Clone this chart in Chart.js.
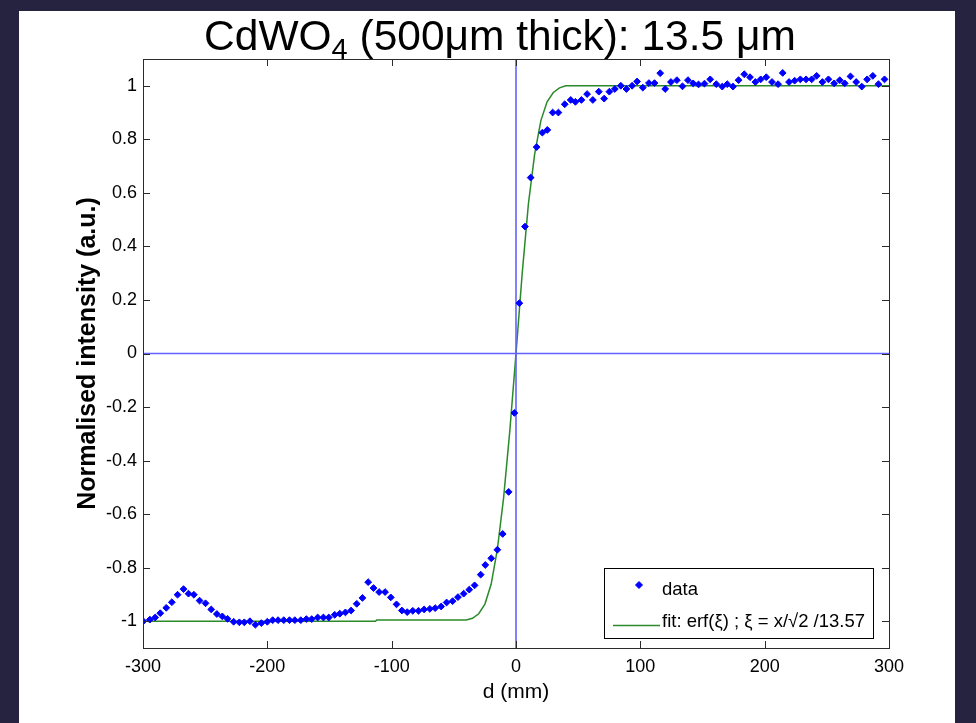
<!DOCTYPE html>
<html><head><meta charset="utf-8">
<script src="https://cdn.jsdelivr.net/npm/chart.js@4/dist/chart.umd.min.js"></script>
<style>
html,body{margin:0;padding:0;background:#25233f;overflow:hidden;}
#c{position:absolute;left:0;top:0;}
</style></head><body>
<canvas id="c" width="976" height="723"></canvas>
<script>
// ---- data ----
const dataX = [-299.8,-294.5,-290.2,-286.1,-281.3,-276.8,-272.2,-267.4,-263.4,-259.1,-254.5,-249.7,-245.1,-240.6,-236.2,-232.0,-227.1,-222.5,-218.5,-214.0,-209.6,-204.8,-200.0,-195.7,-191.4,-186.8,-182.2,-177.9,-173.1,-168.6,-164.3,-159.5,-154.9,
 -150.6,-145.8,-141.7,-137.2,-132.6,-128.1,-123.5,-118.9,-114.6,-110.1,-105.3,-100.7,-96.1,-91.8,-87.5,-83.0,-78.4,-73.9,-69.3,-65.0,-60.2,-55.8,-51.0,-46.7,-42.1,-37.6,-33.3,
 -28.4,-24.7,-19.9,-15.0,-10.7,-5.9,-1.3,2.7,7.2,11.8,16.6,21.2,25.2,29.5,34.1,
 39.2,44.0,47.8,52.6,57.2,61.8,66.6,70.9,75.1,79.5,84.3,88.8,93.4,97.4,102.0,106.9,111.4,116.0,120.0,124.6,129.4,133.9,138.3,142.5,
 146.8,151.6,156.2,161.1,165.9,169.9,174.5,179.0,183.6,188.2,192.5,196.8,201.3,205.9,210.8,214.5,219.6,224.1,228.7,233.3,237.8,241.8,246.4,251.3,255.9,260.4,264.4,269.0,273.6,278.1,282.4,287.0,291.5,296.4];
const dataY = [-1.000,-0.994,-0.986,-0.970,-0.950,-0.929,-0.901,-0.880,-0.897,-0.901,-0.923,-0.933,-0.956,-0.973,-0.982,-0.991,-1.002,-1.004,-1.004,-1.000,-1.013,-1.007,-1.002,-0.996,-0.996,-0.996,-0.996,-0.996,-0.996,-0.992,-0.992,-0.986,-0.986,
 -0.986,-0.976,-0.972,-0.967,-0.960,-0.935,-0.913,-0.854,-0.876,-0.891,-0.891,-0.911,-0.937,-0.960,-0.966,-0.961,-0.961,-0.956,-0.954,-0.951,-0.945,-0.930,-0.925,-0.910,-0.897,-0.882,-0.866,
 -0.826,-0.790,-0.765,-0.733,-0.674,-0.517,-0.222,0.188,0.474,0.657,0.771,0.825,0.835,0.900,0.900,
 0.931,0.947,0.940,0.947,0.969,0.947,0.978,0.952,0.978,0.988,1.000,0.988,1.000,1.016,0.993,1.010,1.010,1.047,0.988,1.014,1.021,0.998,1.021,1.009,
 1.005,1.008,1.024,1.006,0.997,1.006,0.997,1.021,1.043,1.032,1.014,1.024,1.032,1.014,1.006,1.048,1.014,1.019,1.024,1.024,1.024,1.037,1.014,1.024,1.009,1.021,1.009,1.035,1.014,0.997,1.024,1.037,1.006,1.024];
const fitX = [-300,-113,-112,-40,-35,-30,-25,-20,-15,-10,-5,0,5,10,15,20,25,30,35,40,300];
const fitY = [-1.000,-1.000,-0.995,-0.995,-0.989,-0.972,-0.936,-0.862,-0.732,-0.540,-0.290,0,0.300,0.560,0.745,0.870,0.940,0.975,0.992,1.000,1.000];
const xTicks = [-300,-200,-100,0,100,200,300];
const yTicks = [-1,-0.8,-0.6,-0.4,-0.2,0,0.2,0.4,0.6,0.8,1];
const xRange = [-300,300];
const yRange = [-1.1,1.1];
const seriesLabels = ['data','fit: erf(ξ) ; ξ = x/√2 /13.57'];
const titleParts = ['CdWO','4',' (500μm thick): 13.5 μm'];
const xTitle = 'd (mm)';
const yTitle = 'Normalised intensity (a.u.)';

const FONT = "'Liberation Sans', Arial, Helvetica, sans-serif";
const BLUE = '#0000ff', GREEN = '#2a8a2a', CROSS = '#6262ff';

const pts = dataX.map((x,i)=>({x:x,y:dataY[i]}));
const fitPts = fitX.map((x,i)=>({x:x,y:fitY[i]}));

const bgPlugin = {
  id:'bg',
  beforeDraw(chart){
    const ctx = chart.ctx;
    ctx.save();
    ctx.fillStyle = '#25233f';
    ctx.fillRect(0,0,chart.width,chart.height);
    ctx.fillStyle = '#ffffff';
    ctx.fillRect(19,11,936,chart.height-11);
    ctx.restore();
  }
};

const framePlugin = {
  id:'frame',
  afterDatasetsDraw(chart){
    const {ctx, chartArea:a, scales} = chart;
    ctx.save();
    ctx.strokeStyle = '#2b2b2b';
    ctx.lineWidth = 1;
    ctx.strokeRect(Math.round(a.left)+0.5, Math.round(a.top)+0.5, Math.round(a.right-a.left), Math.round(a.bottom-a.top));
    const L = 7;
    ctx.beginPath();
    xTicks.forEach(v=>{
      const px = Math.round(scales.x.getPixelForValue(v))+0.5;
      ctx.moveTo(px,a.bottom); ctx.lineTo(px,a.bottom-L);
      ctx.moveTo(px,a.top); ctx.lineTo(px,a.top+L);
    });
    yTicks.forEach(v=>{
      const py = Math.round(scales.y.getPixelForValue(v))+0.5;
      ctx.moveTo(a.left,py); ctx.lineTo(a.left+L,py);
      ctx.moveTo(a.right,py); ctx.lineTo(a.right-L,py);
    });
    ctx.stroke();
    ctx.restore();
  },
  afterDraw(chart){
    const {ctx, chartArea:a} = chart;
    ctx.save();
    // title with subscript
    const big = "42.5px " + FONT, small = "29px " + FONT;
    ctx.font = big; const w1 = ctx.measureText(titleParts[0]).width, w3 = ctx.measureText(titleParts[2]).width;
    ctx.font = small; const w2 = ctx.measureText(titleParts[1]).width;
    const total = w1+w2+w3;
    let x = 500 - total/2; const base = 50;
    ctx.fillStyle = '#000'; ctx.textBaseline = 'alphabetic'; ctx.textAlign='left';
    ctx.font = big; ctx.fillText(titleParts[0], x, base); x += w1;
    ctx.font = small; ctx.fillText(titleParts[1], x, base+9); x += w2;
    ctx.font = big; ctx.fillText(titleParts[2], x, base);
    // legend
    const lr = a.right-16, lb = a.bottom-10, lw = 269, lh = 70;
    const lx = lr-lw, ly = lb-lh;
    ctx.fillStyle = '#fff'; ctx.fillRect(lx,ly,lw,lh);
    ctx.strokeStyle = '#000'; ctx.lineWidth = 1;
    ctx.strokeRect(Math.round(lx)+0.5, Math.round(ly)+0.5, lw, lh);
    const r1 = ly+17, r2 = ly+57.5;
    // marker
    ctx.fillStyle = BLUE; ctx.strokeStyle = BLUE; ctx.lineWidth = 1;
    ctx.beginPath();
    const mx = lx+35, mr = 3.5;
    ctx.moveTo(mx, r1-mr); ctx.lineTo(mx+mr, r1); ctx.lineTo(mx, r1+mr); ctx.lineTo(mx-mr, r1); ctx.closePath(); ctx.fill(); ctx.stroke();
    // line sample
    ctx.strokeStyle = GREEN; ctx.lineWidth = 1.5;
    ctx.beginPath(); ctx.moveTo(lx+9, r2); ctx.lineTo(lx+56, r2); ctx.stroke();
    ctx.fillStyle = '#000'; ctx.font = "18.5px " + FONT; ctx.textBaseline='alphabetic';
    ctx.fillText(seriesLabels[0], lx+58, r1+9.5);
    ctx.fillText(seriesLabels[1], lx+58, r2+1);
    ctx.restore();
  }
};

new Chart(document.getElementById('c'), {
  type:'scatter',
  data:{
    datasets:[
      {label:seriesLabels[0], data:pts, showLine:false, pointStyle:'rectRot', pointRadius:3.4, pointBorderWidth:1,
       backgroundColor:BLUE, borderColor:BLUE, order:0},
      {label:'x0', data:[{x:0,y:yRange[0]},{x:0,y:yRange[1]}], showLine:true, pointRadius:0, borderColor:CROSS, borderWidth:1.6, order:1},
      {label:'y0', data:[{x:xRange[0],y:0},{x:xRange[1],y:0}], showLine:true, pointRadius:0, borderColor:CROSS, borderWidth:1.6, order:1},
      {label:seriesLabels[1], data:fitPts, showLine:true, pointRadius:0, borderColor:GREEN, borderWidth:1.5, tension:0, order:2}
    ]
  },
  options:{
    responsive:false, animation:false, devicePixelRatio:1,
    layout:{padding:{left:0,right:87,top:59,bottom:0}},
    plugins:{legend:{display:false}, tooltip:{enabled:false}, title:{display:false}},
    scales:{
      x:{type:'linear', min:xRange[0], max:xRange[1],
         afterBuildTicks:s=>{s.ticks = xTicks.map(v=>({value:v}));},
         afterFit:s=>{s.height = 75;},
         grid:{display:false, drawTicks:false}, border:{display:false},
         ticks:{color:'#000', font:{family:FONT,size:18}, padding:8, maxRotation:0, callback:v=>String(v)},
         title:{display:true, text:xTitle, color:'#000', font:{family:FONT,size:21}, padding:{top:0,bottom:18}}},
      y:{type:'linear', min:yRange[0], max:yRange[1],
         afterBuildTicks:s=>{s.ticks = yTicks.map(v=>({value:v}));},
         afterFit:s=>{s.width = 143;},
         grid:{display:false, drawTicks:false}, border:{display:false},
         ticks:{color:'#000', font:{family:FONT,size:18}, padding:6, callback:v=>String(v)},
         title:{display:true, text:yTitle, color:'#000', font:{family:FONT,size:25,weight:'bold'}, padding:{top:73,bottom:0}}}
    }
  },
  plugins:[bgPlugin, framePlugin]
});
</script>
</body></html>
